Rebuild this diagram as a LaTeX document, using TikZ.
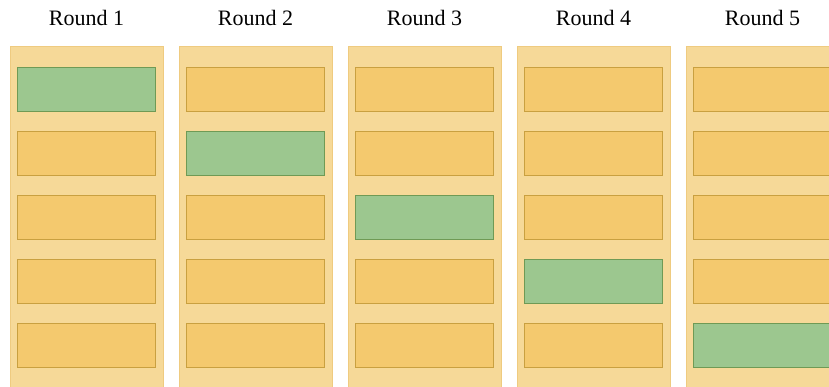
\documentclass[tikz,border=0pt]{standalone}
\usepackage{fontspec}
\setmainfont{Liberation Serif}
\usetikzlibrary{positioning}
\definecolor{LaneBack}{HTML}{F6D998}
\definecolor{LaneEdge}{HTML}{EFCB80}
\definecolor{PartFill}{HTML}{F4C96E}
\definecolor{PartEdge}{HTML}{C9A040}
\definecolor{TestFill}{HTML}{9CC78F}
\definecolor{TestEdge}{HTML}{6F9A55}
\tikzset{every node/.style={font=\fontsize{22}{26}\selectfont}}
\begin{document}
\begin{tikzpicture}[x=1pt,y=-1pt,
 lane/.style={draw=LaneEdge,fill=LaneBack,line width=0.8pt},
 part/.style={draw=PartEdge,fill=PartFill,line width=0.8pt,minimum width=138pt,
  minimum height=44pt,inner sep=0pt},
 testpart/.style={part,draw=TestEdge,fill=TestFill}]
\useasboundingbox (0,0) rectangle (829,387);
\clip (0,0) rectangle (829,387);
% One lane per round; the highlighted fold moves down one row each round.
\foreach \r in {0,...,4}
 {\draw[lane] (10+169*\r,46) rectangle (163+169*\r,395);
  \pgfmathtruncatemacro{\rno}{\r+1}
  \node (round\r) at (86.5+169*\r,18) {Round \rno};
  \foreach \f in {0,...,4}
   {\ifnum\f=\r
     \node[testpart] (fold\r\f) at (86+169*\r,89+64*\f) {};
    \else
     \node[part] (fold\r\f) at (86+169*\r,89+64*\f) {};
    \fi}}
\end{tikzpicture}
\end{document}
